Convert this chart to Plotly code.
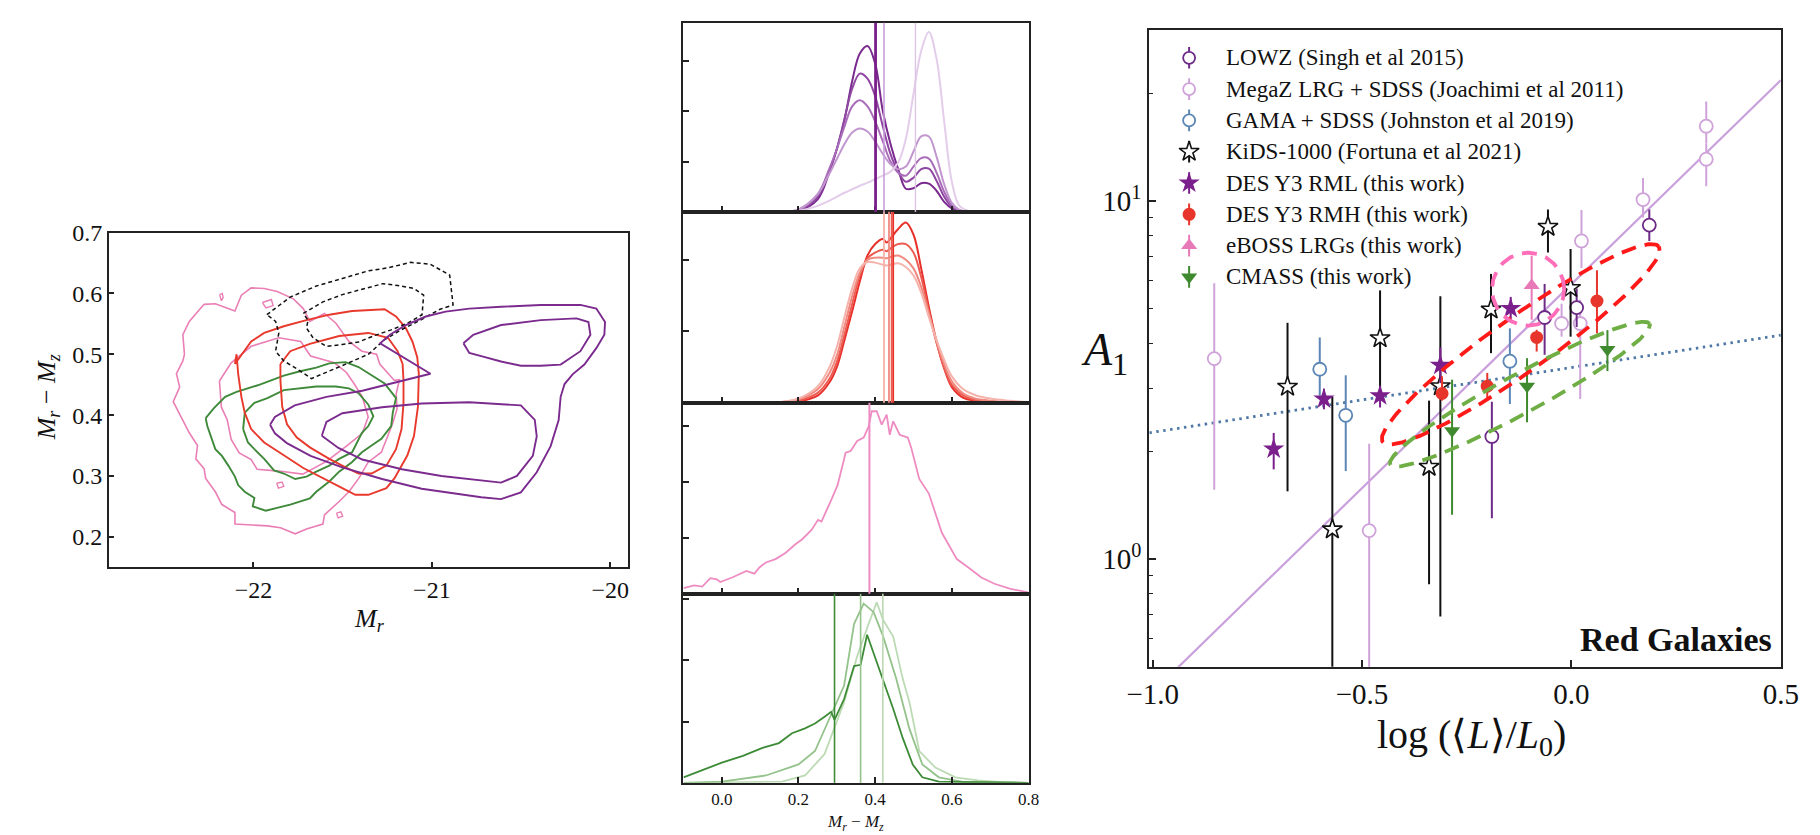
import numpy as np
import plotly.graph_objects as go

W, H = 1820, 835
FONT = "Liberation Serif"

# ======================= LEFT PANEL: colour-magnitude contours (M_r, M_r - M_z) =======================
purple_outer_mr = [-21.907, -21.88, -21.769, -21.591, -21.39, -21.168, -21.008, -21.29, -21.235, -21.146, -21.034,
                   -20.923, -20.79, -20.612, -20.389, -20.167, -20.078, -20.029, -20.033, -20.078, -20.145, -20.211,
                   -20.256, -20.278, -20.289, -20.334, -20.412, -20.501, -20.612, -20.723, -20.879, -21.057, -21.279,
                   -21.502, -21.68, -21.813, -21.88]
purple_outer_c = [0.384, 0.397, 0.416, 0.43, 0.44, 0.456, 0.468, 0.518, 0.532, 0.548, 0.562, 0.57, 0.575, 0.578, 0.581,
                  0.581, 0.575, 0.553, 0.532, 0.51, 0.483, 0.467, 0.451, 0.43, 0.392, 0.349, 0.306, 0.273, 0.262, 0.265,
                  0.271, 0.279, 0.295, 0.314, 0.333, 0.354, 0.37]
purple_inner_a_mr = [-20.823, -20.768, -20.612, -20.389, -20.189, -20.122, -20.111, -20.167, -20.278, -20.389, -20.501,
                     -20.612, -20.723, -20.79]
purple_inner_a_c = [0.518, 0.532, 0.548, 0.556, 0.559, 0.553, 0.532, 0.505, 0.483, 0.481, 0.481, 0.488, 0.497, 0.502]
purple_inner_b_mr = [-21.617, -21.524, -21.39, -21.168, -20.946, -20.723, -20.612, -20.523, -20.434, -20.412, -20.423,
                     -20.501, -20.79, -21.057, -21.279, -21.502, -21.591]
purple_inner_b_c = [0.366, 0.346, 0.327, 0.311, 0.3, 0.292, 0.289, 0.3, 0.333, 0.365, 0.392, 0.416, 0.421, 0.419, 0.413,
                    0.403, 0.389]

red_outer_mr = [-22.104, -22.013, -21.94, -21.83, -21.703, -21.575, -21.447, -21.265, -21.201, -21.146, -21.109, -21.082,
                -21.073, -21.078, -21.1, -21.137, -21.21, -21.255, -21.356, -21.429, -21.502, -21.575, -21.648, -21.721,
                -21.83, -21.94, -22.013, -22.049, -22.068, -22.086, -22.095]
red_outer_c = [0.484, 0.521, 0.535, 0.546, 0.556, 0.565, 0.571, 0.574, 0.562, 0.543, 0.521, 0.495, 0.468, 0.414, 0.366,
               0.334, 0.296, 0.28, 0.269, 0.269, 0.28, 0.291, 0.301, 0.313, 0.334, 0.355, 0.377, 0.404, 0.43, 0.468, 0.5]
red_inner_mr = [-21.849, -21.794, -21.684, -21.52, -21.356, -21.246, -21.192, -21.164, -21.159, -21.159, -21.17, -21.201,
                -21.255, -21.338, -21.411, -21.484, -21.575, -21.684, -21.757, -21.812, -21.839, -21.849]
red_inner_c = [0.484, 0.505, 0.517, 0.53, 0.535, 0.527, 0.505, 0.484, 0.457, 0.42, 0.377, 0.344, 0.317, 0.304, 0.304,
               0.314, 0.328, 0.347, 0.363, 0.385, 0.414, 0.457]

green_outer_mr = [-22.268, -22.223, -22.159, -22.095, -21.976, -21.83, -21.739, -21.648, -21.575, -21.484, -21.411,
                  -21.338, -21.265, -21.201, -21.219, -21.228, -21.283, -21.338, -21.392, -21.447, -21.52, -21.575,
                  -21.648, -21.684, -21.794, -21.931, -22.004, -21.995, -22.049, -22.086, -22.104, -22.141, -22.177,
                  -22.214, -22.241, -22.259]
green_outer_c = [0.395, 0.411, 0.43, 0.438, 0.449, 0.465, 0.472, 0.478, 0.485, 0.487, 0.479, 0.465, 0.452, 0.428, 0.404,
                 0.382, 0.361, 0.35, 0.339, 0.323, 0.307, 0.291, 0.274, 0.263, 0.253, 0.243, 0.25, 0.264, 0.274, 0.285,
                 0.299, 0.317, 0.333, 0.344, 0.366, 0.382]
green_inner_mr = [-22.058, -22.049, -21.995, -21.922, -21.83, -21.648, -21.538, -21.465, -21.411, -21.356, -21.328,
                  -21.356, -21.392, -21.42, -21.447, -21.52, -21.575, -21.648, -21.703, -21.766, -21.83, -21.885,
                  -21.94, -21.995, -22.031]
green_inner_c = [0.377, 0.404, 0.42, 0.428, 0.441, 0.447, 0.447, 0.444, 0.436, 0.417, 0.398, 0.382, 0.371, 0.355, 0.339,
                 0.328, 0.317, 0.307, 0.299, 0.295, 0.304, 0.309, 0.328, 0.344, 0.355]

pink_outer_mr = [-22.387, -22.396, -22.36, -22.277, -22.214, -22.104, -22.068, -22.013, -21.94, -21.867, -21.776,
                 -21.721, -21.684, -21.602, -21.538, -21.465, -21.392, -21.31, -21.292, -21.21, -21.182, -21.2, -21.195,
                 -21.219, -21.255, -21.283, -21.356, -21.41, -21.465, -21.52, -21.602, -21.611, -21.703, -21.766,
                 -21.849, -21.922, -22.104, -22.104, -22.177, -22.214, -22.268, -22.277, -22.323, -22.314, -22.36,
                 -22.414, -22.45, -22.414, -22.432, -22.396]
pink_outer_c = [0.5, 0.532, 0.554, 0.582, 0.583, 0.571, 0.597, 0.609, 0.608, 0.603, 0.591, 0.575, 0.554, 0.567, 0.551,
                0.521, 0.505, 0.5, 0.484, 0.457, 0.458, 0.435, 0.41, 0.387, 0.36, 0.339, 0.323, 0.296, 0.274, 0.258,
                0.236, 0.221, 0.213, 0.205, 0.215, 0.218, 0.221, 0.24, 0.253, 0.274, 0.296, 0.312, 0.328, 0.35, 0.371,
                0.403, 0.422, 0.446, 0.468, 0.489]
pink_inner_mr = [-22.191, -22.18, -22.147, -22.125, -22.08, -22.013, -21.98, -21.858, -21.724, -21.591, -21.479, -21.39,
                 -21.357, -21.39, -21.435, -21.479, -21.546, -21.68, -21.735, -21.858, -22.013, -22.125]
pink_inner_c = [0.456, 0.413, 0.392, 0.36, 0.338, 0.327, 0.311, 0.308, 0.303, 0.324, 0.349, 0.37, 0.397, 0.43, 0.451,
                0.47, 0.486, 0.497, 0.521, 0.527, 0.513, 0.486]
pink_islands_mr = [[-22.19, -22.175, -22.17, -22.18], [-21.95, -21.9, -21.89, -21.93],
                   [-21.87, -21.84, -21.83, -21.86], [-21.535, -21.51, -21.5, -21.525]]
pink_islands_c = [[0.598, 0.6, 0.593, 0.588], [0.585, 0.59, 0.58, 0.576],
                  [0.288, 0.29, 0.283, 0.28], [0.239, 0.241, 0.234, 0.231]]

black_outer_mr = [-21.925, -21.794, -21.648, -21.502, -21.356, -21.246, -21.119, -21.009, -20.9, -20.881, -20.954,
                  -21.064, -21.173, -21.265, -21.356, -21.465, -21.575, -21.675, -21.757, -21.83, -21.876, -21.868,
                  -21.858, -21.876]
black_outer_c = [0.565, 0.594, 0.612, 0.625, 0.637, 0.642, 0.651, 0.648, 0.63, 0.581, 0.574, 0.556, 0.54, 0.524, 0.5,
                 0.486, 0.473, 0.46, 0.476, 0.489, 0.505, 0.521, 0.535, 0.554]
black_inner_mr = [-21.721, -21.611, -21.502, -21.374, -21.274, -21.192, -21.1, -21.046, -21.055, -21.137, -21.228,
                  -21.319, -21.411, -21.502, -21.593, -21.666, -21.703, -21.694]
black_inner_c = [0.567, 0.586, 0.598, 0.608, 0.616, 0.613, 0.608, 0.597, 0.565, 0.551, 0.54, 0.531, 0.52, 0.516, 0.513,
                 0.527, 0.543, 0.556]

# ======================= MIDDLE PANELS: colour distributions =======================
p1_x = [-0.10, 0.10, 0.15, 0.20, 0.25, 0.28, 0.30, 0.32, 0.34, 0.36, 0.38, 0.40, 0.42, 0.44, 0.46, 0.48, 0.50, 0.52,
        0.54, 0.56, 0.58, 0.60, 0.62, 0.65, 0.70, 0.80]
p1_curves = [
    [0, 0, 0, 0.02, 0.25, 0.78, 1.25, 1.83, 2.6, 3.15, 3.3, 2.95, 2.0, 1.35, 0.85, 0.46, 0.47, 0.57, 0.56, 0.42, 0.2, 0.07, 0.02, 0, 0, 0],
    [0, 0, 0, 0.03, 0.3, 0.8, 1.25, 1.85, 2.45, 2.75, 2.65, 2.3, 1.7, 1.15, 0.8, 0.6, 0.68, 0.85, 0.86, 0.62, 0.3, 0.1, 0.03, 0, 0, 0],
    [0, 0, 0, 0.04, 0.35, 0.85, 1.25, 1.7, 2.1, 2.22, 2.1, 1.8, 1.4, 1.0, 0.78, 0.72, 0.9, 1.07, 1.06, 0.78, 0.4, 0.13, 0.03, 0, 0, 0],
    [0, 0, 0, 0.05, 0.35, 0.75, 1.05, 1.35, 1.58, 1.66, 1.6, 1.4, 1.15, 0.95, 0.85, 0.9, 1.2, 1.5, 1.5, 1.1, 0.55, 0.18, 0.04, 0, 0, 0],
    [0, 0, 0, 0.02, 0.12, 0.22, 0.3, 0.38, 0.45, 0.52, 0.58, 0.65, 0.72, 0.8, 0.98, 1.45, 2.35, 3.2, 3.58, 3.05, 1.8, 0.6, 0.12, 0.01, 0, 0],
]
p1_means = [0.401, 0.423, 0.505]

p2_x = [-0.10, 0.15, 0.20, 0.25, 0.28, 0.30, 0.32, 0.34, 0.36, 0.38, 0.40, 0.42, 0.43, 0.44, 0.46, 0.48, 0.50, 0.52,
        0.54, 0.56, 0.58, 0.60, 0.63, 0.66, 0.70, 0.75, 0.80]
p2_curves = [
    [0, 0, 0.02, 0.1, 0.28, 0.5, 0.88, 1.28, 1.7, 2.06, 2.22, 2.29, 2.24, 2.3, 2.43, 2.52, 2.35, 1.88, 1.34, 0.86, 0.48, 0.22, 0.07, 0.03, 0.01, 0, 0],
    [0, 0, 0.03, 0.14, 0.33, 0.57, 0.96, 1.38, 1.78, 2.02, 2.1, 2.14, 2.12, 2.16, 2.22, 2.22, 2.1, 1.76, 1.28, 0.84, 0.49, 0.25, 0.1, 0.04, 0.02, 0, 0],
    [0, 0.01, 0.05, 0.19, 0.41, 0.66, 1.07, 1.49, 1.82, 2.0, 2.03, 2.03, 2.02, 2.04, 2.06, 2.0, 1.88, 1.62, 1.25, 0.86, 0.54, 0.3, 0.13, 0.06, 0.03, 0.01, 0],
    [0, 0.01, 0.06, 0.23, 0.49, 0.78, 1.2, 1.6, 1.88, 1.97, 1.96, 1.93, 1.92, 1.93, 1.95, 1.9, 1.78, 1.54, 1.2, 0.88, 0.6, 0.37, 0.19, 0.11, 0.06, 0.03, 0.01],
]
p2_means = [0.447, 0.443, 0.436, 0.423]

p3_x = [-0.1, -0.072, -0.051, -0.03, -0.013, -0.004, 0.03, 0.064, 0.085, 0.098, 0.115, 0.14, 0.166, 0.191, 0.209, 0.234,
        0.251, 0.26, 0.285, 0.302, 0.323, 0.336, 0.353, 0.37, 0.383, 0.391, 0.404, 0.417, 0.43, 0.438, 0.447, 0.464,
        0.485, 0.494, 0.515, 0.54, 0.574, 0.613, 0.643, 0.677, 0.711, 0.753, 0.796, 0.8]
p3_y = [0.1, 0.15, 0.13, 0.28, 0.26, 0.21, 0.3, 0.41, 0.36, 0.47, 0.56, 0.62, 0.73, 0.88, 0.97, 1.14, 1.32, 1.29, 1.67,
        1.94, 2.52, 2.55, 2.73, 2.79, 2.99, 3.26, 3.26, 3.02, 3.2, 2.84, 3.08, 2.84, 2.79, 2.61, 2.05, 1.79, 1.09, 0.62,
        0.47, 0.29, 0.18, 0.09, 0.03, 0.02]
p3_mean = 0.385

p4a_x = [-0.1, -0.055, 0.0, 0.055, 0.106, 0.149, 0.183, 0.217, 0.243, 0.268, 0.285, 0.294, 0.319, 0.345, 0.362, 0.379,
         0.396, 0.421, 0.447, 0.472, 0.498, 0.523, 0.566, 0.65, 0.8]
p4a_y = [0.09, 0.2, 0.33, 0.44, 0.57, 0.65, 0.81, 0.89, 0.97, 1.08, 1.16, 1.03, 1.37, 1.91, 1.93, 2.42, 2.12, 1.7, 1.21,
         0.73, 0.3, 0.09, 0.02, 0.01, 0.0]
p4b_x = [-0.1, 0.0, 0.115, 0.2, 0.243, 0.285, 0.319, 0.345, 0.37, 0.396, 0.421, 0.455, 0.489, 0.523, 0.566, 0.626, 0.8]
p4b_y = [0.0, 0.02, 0.12, 0.3, 0.52, 1.1, 1.59, 2.6, 2.93, 2.79, 2.39, 1.7, 0.89, 0.3, 0.09, 0.02, 0.0]
p4c_x = [-0.1, 0.157, 0.217, 0.268, 0.319, 0.353, 0.383, 0.404, 0.421, 0.447, 0.472, 0.49, 0.515, 0.557, 0.609, 0.668, 0.73, 0.8]
p4c_y = [0.0, 0.02, 0.12, 0.47, 1.32, 2.07, 2.6, 2.95, 2.66, 2.39, 1.7, 1.3, 0.52, 0.25, 0.09, 0.04, 0.01, 0.0]
p4_means = [0.294, 0.362, 0.42]

# ======================= RIGHT PANEL: A_1 vs luminosity =======================
lowz_x = [-0.19, -0.064, 0.0125, 0.186]
lowz_y = [2.20, 4.73, 5.04, 8.57]
lowz_hi = [2.75, 5.87, 5.7, 9.48]
lowz_lo = [1.30, 3.72, 4.45, 7.74]

megaz_x = [-0.853, -0.483, -0.0235, 0.021, 0.024, 0.171, 0.322, 0.322]
megaz_y = [3.63, 1.20, 4.55, 4.55, 7.74, 10.1, 13.1, 16.2]
megaz_hi = [5.9, 2.10, 5.17, 5.3, 9.45, 11.6, 14.5, 19.0]
megaz_lo = [1.56, 0.3, 4.18, 2.8, 6.5, 9.0, 11.0, 14.5]

gama_x = [-0.601, -0.539, -0.147]
gama_y = [3.39, 2.52, 3.57]
gama_hi = [4.16, 3.26, 4.41]
gama_lo = [2.86, 1.76, 2.71]

kids_x = [-0.678, -0.571, -0.457, -0.340, -0.313, -0.192, -0.056, -0.002]
kids_y = [3.03, 1.21, 4.14, 1.81, 3.04, 4.98, 8.48, 5.72]
kids_hi = [4.57, 2.84, 5.63, 2.77, 5.42, 6.26, 9.48, 7.35]
kids_lo = [1.545, 0.3, 3.0, 0.85, 0.69, 3.76, 7.18, 4.18]

rml_x = [-0.711, -0.591, -0.457, -0.313, -0.145]
rml_y = [2.03, 2.80, 2.86, 3.48, 5.01]
rml_hi = [2.25, 2.99, 3.04, 3.9, 5.4]
rml_lo = [1.78, 2.62, 2.65, 3.1, 4.66]

rmh_x = [-0.309, -0.201, -0.083, 0.061]
rmh_y = [2.90, 3.04, 4.16, 5.26]
rmh_hi = [3.24, 3.31, 4.37, 6.41]
rmh_lo = [2.77, 2.77, 3.80, 4.27]

eboss_x = [-0.095]
eboss_y = [5.81]
eboss_hi = [7.04]
eboss_lo = [4.66]

cmass_x = [-0.285, -0.106, 0.086]
cmass_y = [2.28, 3.04, 3.85]
cmass_hi = [3.17, 3.64, 4.36]
cmass_lo = [1.33, 2.41, 3.35]

# power-law fits: log10 A1 = intercept + slope * log(L/L0)
fit_red = (0.768, 1.14)
fit_dotted = (0.535, 0.181)

# confidence ellipses in (log L, log10 A1): centre, semi-axis vectors
ell_rmh = dict(c=(-0.121, 0.600), a=(0.3297, 0.2729), b=(-0.0374, 0.0631))
ell_cmass = dict(c=(-0.123, 0.4605), a=(0.3097, 0.1964), b=(-0.022, 0.0485))
ell_eboss = dict(c=(-0.1035, 0.754), a=(0.0861, 0.0), b=(0.0, 0.1018))

legend_labels = ["LOWZ (Singh et al 2015)", "MegaZ LRG + SDSS (Joachimi et al 2011)",
                 "GAMA + SDSS (Johnston et al 2019)", "KiDS-1000 (Fortuna et al 2021)",
                 "DES Y3 RML (this work)", "DES Y3 RMH (this work)", "eBOSS LRGs (this work)",
                 "CMASS (this work)"]

# ======================= figure =======================
fig = go.Figure()


def px_dom_x(x0, x1):
    return [x0 / W, x1 / W]


def px_dom_y(y_top, y_bot):
    return [1 - y_bot / H, 1 - y_top / H]


def closed(a):
    return list(a) + [a[0]]


def line_trace(x, y, color, width, xa, ya, dash=None, shape="linear"):
    fig.add_trace(go.Scatter(x=x, y=y, mode="lines", xaxis=xa, yaxis=ya, hoverinfo="skip", showlegend=False,
                             line=dict(color=color, width=width, dash=dash, shape=shape)))


# ---- left panel
C_PINK = "#ea7fb5"
C_PURP = "#7b2b8e"
C_RED = "#e8392c"
C_GREEN = "#3e8a3a"
line_trace(closed(pink_outer_mr), closed(pink_outer_c), C_PINK, 1.6, "x", "y")
line_trace(closed(pink_inner_mr), closed(pink_inner_c), C_PINK, 1.6, "x", "y")
for mr, c in zip(pink_islands_mr, pink_islands_c):
    line_trace(closed(mr), closed(c), C_PINK, 1.4, "x", "y")
line_trace(closed(green_outer_mr), closed(green_outer_c), C_GREEN, 1.9, "x", "y")
line_trace(closed(green_inner_mr), closed(green_inner_c), C_GREEN, 1.9, "x", "y")
line_trace(closed(red_outer_mr), closed(red_outer_c), C_RED, 1.9, "x", "y")
line_trace(closed(red_inner_mr), closed(red_inner_c), C_RED, 1.9, "x", "y")
line_trace(closed(black_outer_mr), closed(black_outer_c), "#111111", 1.5, "x", "y", dash="4px,3px")
line_trace(closed(black_inner_mr), closed(black_inner_c), "#111111", 1.5, "x", "y", dash="4px,3px")
line_trace(closed(purple_outer_mr), closed(purple_outer_c), C_PURP, 1.9, "x", "y")
line_trace(closed(purple_inner_a_mr), closed(purple_inner_a_c), C_PURP, 1.9, "x", "y")
line_trace(closed(purple_inner_b_mr), closed(purple_inner_b_c), C_PURP, 1.9, "x", "y")

# ---- middle panels
p1_cols = ["#7a2a8e", "#8f47a2", "#a96cb9", "#c196cf", "#e4cdea"]
for vals, col in zip(p1_curves, p1_cols):
    line_trace(p1_x, vals, col, 2, "x2", "y2", shape="spline")
p1_vcols = ["#7a1f8a", "#c9a0dc", "#dcc6e4"]
p1_vw = [2.8, 1.6, 1.4]
for xv, col, w in zip(p1_means, p1_vcols, p1_vw):
    fig.add_shape(type="line", xref="x2", yref="y2 domain", x0=xv, x1=xv, y0=0, y1=1, line=dict(color=col, width=w))

p2_cols = ["#e8302a", "#ec5a50", "#f08a80", "#f5b3ab"]
for vals, col in zip(p2_curves, p2_cols):
    line_trace(p2_x, vals, col, 2, "x3", "y3", shape="spline")
for xv, col in zip(p2_means, p2_cols):
    fig.add_shape(type="line", xref="x3", yref="y3 domain", x0=xv, x1=xv, y0=0, y1=1, line=dict(color=col, width=1.8))

line_trace(p3_x, p3_y, "#ee8cc2", 1.8, "x4", "y4")
fig.add_shape(type="line", xref="x4", yref="y4 domain", x0=p3_mean, x1=p3_mean, y0=0, y1=1,
              line=dict(color="#ee8cc2", width=2))

p4_cols = ["#3d8b37", "#93c28a", "#bcdab3"]
for xs, ys, col in zip([p4c_x, p4b_x, p4a_x], [p4c_y, p4b_y, p4a_y], p4_cols[::-1]):
    line_trace(xs, ys, col, 1.8, "x5", "y5")
for xv, col in zip(p4_means, p4_cols):
    fig.add_shape(type="line", xref="x5", yref="y5 domain", x0=xv, x1=xv, y0=0, y1=1, line=dict(color=col, width=1.6))

# ---- right panel
XR = [-1.008, 0.5]
YR = [np.log10(0.5), np.log10(30)]
xx = np.linspace(XR[0], XR[1], 200)
line_trace(xx, 10 ** (fit_red[0] + fit_red[1] * xx), "#c9a0dc", 2.2, "x6", "y6")
line_trace(xx, 10 ** (fit_dotted[0] + fit_dotted[1] * xx), "#4f78a6", 2.8, "x6", "y6", dash="2.5px,4.5px")

series = [
    (megaz_x, megaz_y, megaz_hi, megaz_lo, dict(symbol="circle", color="white", size=13, line=dict(color="#cfa3d9", width=1.8)), "#cfa3d9"),
    (gama_x, gama_y, gama_hi, gama_lo, dict(symbol="circle", color="white", size=13, line=dict(color="#5b86b5", width=1.8)), "#5b86b5"),
    (lowz_x, lowz_y, lowz_hi, lowz_lo, dict(symbol="circle", color="white", size=13, line=dict(color="#6d2a87", width=1.8)), "#6d2a87"),
    (kids_x, kids_y, kids_hi, kids_lo, dict(symbol="star", color="white", size=15, line=dict(color="#111111", width=1.6)), "#111111"),
    (rml_x, rml_y, rml_hi, rml_lo, dict(symbol="star", color="#7b1f8c", size=16, line=dict(color="#7b1f8c", width=0)), "#7b1f8c"),
    (rmh_x, rmh_y, rmh_hi, rmh_lo, dict(symbol="circle", color="#e8352b", size=13, line=dict(color="#e8352b", width=0)), "#e8352b"),
    (eboss_x, eboss_y, eboss_hi, eboss_lo, dict(symbol="triangle-up", color="#e779b8", size=14, line=dict(color="#e779b8", width=0)), "#e779b8"),
    (cmass_x, cmass_y, cmass_hi, cmass_lo, dict(symbol="triangle-down", color="#3f8a2f", size=14, line=dict(color="#3f8a2f", width=0)), "#3f8a2f"),
]
for sx, sy, shi, slo, mk, ecol in series:
    sy_a = np.array(sy)
    fig.add_trace(go.Scatter(
        x=sx, y=sy, mode="markers", xaxis="x6", yaxis="y6", marker=mk, showlegend=False, hoverinfo="skip",
        error_y=dict(type="data", symmetric=False, array=np.array(shi) - sy_a, arrayminus=sy_a - np.array(slo),
                     color=ecol, thickness=2, width=0)))


def ellipse(e, n=240):
    t = np.linspace(0, 2 * np.pi, n)
    x = e["c"][0] + e["a"][0] * np.cos(t) + e["b"][0] * np.sin(t)
    ly = e["c"][1] + e["a"][1] * np.cos(t) + e["b"][1] * np.sin(t)
    return x, 10 ** ly


ex, ey = ellipse(ell_rmh)
line_trace(ex, ey, "#ff1a1a", 3.8, "x6", "y6", dash="15px,9px")
ex, ey = ellipse(ell_cmass)
line_trace(ex, ey, "#6fae45", 3.8, "x6", "y6", dash="15px,9px")
ex, ey = ellipse(ell_eboss)
line_trace(ex, ey, "#ff6eb8", 3.8, "x6", "y6", dash="15px,9px")

# ---- legend (overlay axes in unit coordinates)
leg_marks = [
    dict(symbol="circle", color="white", size=12, line=dict(color="#6d2a87", width=1.8)),
    dict(symbol="circle", color="white", size=12, line=dict(color="#cfa3d9", width=1.8)),
    dict(symbol="circle", color="white", size=12, line=dict(color="#5b86b5", width=1.8)),
    dict(symbol="star", color="white", size=15, line=dict(color="#111111", width=1.6)),
    dict(symbol="star", color="#7b1f8c", size=16, line=dict(width=0)),
    dict(symbol="circle", color="#e8352b", size=13, line=dict(width=0)),
    dict(symbol="triangle-up", color="#e779b8", size=14, line=dict(width=0)),
    dict(symbol="triangle-down", color="#3f8a2f", size=14, line=dict(width=0)),
]
leg_ecol = ["#6d2a87", "#cfa3d9", "#5b86b5", "#111111", "#7b1f8c", "#e8352b", "#e779b8", "#3f8a2f"]
RP_L, RP_R, RP_T, RP_B = 1152.3, 1798.3, 17.7, 664.0
for i, (lab, mk, ec) in enumerate(zip(legend_labels, leg_marks, leg_ecol)):
    ypx = 45.5 + 31.8 * i
    v = (RP_B - ypx) / (RP_B - RP_T)
    u = (1193 - RP_L) / (RP_R - RP_L)
    fig.add_trace(go.Scatter(x=[u], y=[v], mode="markers", xaxis="x7", yaxis="y7", marker=mk, showlegend=False,
                             hoverinfo="skip",
                             error_y=dict(type="constant", value=11 / (RP_B - RP_T), color=ec, thickness=2, width=0)))
    fig.add_annotation(x=(1229 - RP_L) / (RP_R - RP_L), y=v, xref="x7", yref="y7", text=lab, showarrow=False,
                       xanchor="left", yanchor="middle", font=dict(family=FONT, size=23, color="#111"))

# ======================= layout =======================
axis_common = dict(showline=True, linewidth=2, linecolor="#222", mirror=True, ticks="inside", tickcolor="#222",
                   showgrid=False, zeroline=False, tickfont=dict(family=FONT, color="#111"))

lay = dict(width=W, height=H, margin=dict(l=0, r=0, t=0, b=0), paper_bgcolor="white", plot_bgcolor="white",
           showlegend=False, font=dict(family=FONT, color="#111"))

lay["xaxis"] = dict(axis_common, domain=px_dom_x(88, 619), range=[-22.81, -19.9], anchor="y",
                    tickvals=[-22, -21, -20], ticklen=5, tickwidth=1.5, tickfont=dict(family=FONT, size=24, color="#111"))
lay["yaxis"] = dict(axis_common, domain=px_dom_y(223, 563), range=[0.15, 0.7], anchor="x",
                    tickvals=[0.2, 0.3, 0.4, 0.5, 0.6, 0.7], tickformat=".1f", ticklen=5, tickwidth=1.5,
                    tickfont=dict(family=FONT, size=24, color="#111"))

mid_panels = [(10, 202, 3.76), (202, 396, 2.67), (396, 590, 3.41), (590, 782, 3.09)]
for k, (yt, yb, ytop) in enumerate(mid_panels):
    n = k + 2
    lay[f"xaxis{n}"] = dict(axis_common, domain=px_dom_x(675.7, 1028.7), range=[-0.1, 0.8], anchor=f"y{n}",
                            tickvals=[0, 0.2, 0.4, 0.6, 0.8], tickformat=".1f", ticklen=6, tickwidth=1.5,
                            showticklabels=(n == 5), tickfont=dict(family=FONT, size=17, color="#111"))
    lay[f"yaxis{n}"] = dict(axis_common, domain=px_dom_y(yt, yb), range=[0, ytop], anchor=f"x{n}",
                            tickvals=[1, 2, 3], showticklabels=False, ticklen=6, tickwidth=1.5)

lay["xaxis6"] = dict(axis_common, domain=px_dom_x(RP_L, RP_R), range=XR, anchor="y6", linewidth=2.2,
                     tickvals=[-1, -0.5, 0, 0.5], tickformat=".1f", ticklen=7, tickwidth=1.5,
                     tickfont=dict(family=FONT, size=29, color="#111"))
lay["yaxis6"] = dict(axis_common, domain=px_dom_y(RP_T, RP_B), type="log", range=YR, anchor="x6", linewidth=2.2,
                     tickvals=[1, 10], ticktext=["10<sup>0</sup>", "10<sup>1</sup>"], ticklen=7, tickwidth=1.5,
                     tickfont=dict(family=FONT, size=29, color="#111"),
                     minor=dict(tickmode="array", tickvals=[0.5, 0.6, 0.7, 0.8, 0.9, 2, 3, 4, 5, 6, 7, 8, 9, 20, 30],
                                ticks="inside", ticklen=4, tickwidth=1.2, tickcolor="#222", showgrid=False))
lay["xaxis7"] = dict(overlaying="x6", range=[0, 1], visible=False, anchor="y7")
lay["yaxis7"] = dict(overlaying="y6", range=[0, 1], visible=False, anchor="x7")

fig.update_layout(**lay)

# axis titles and panel label
ann = [
    dict(x=25 / W, y=1 - 390 / H, text="<i>M<sub>r</sub></i> − <i>M<sub>z</sub></i>", textangle=-90, size=26),
    dict(x=354 / W, y=1 - 617 / H, text="<i>M<sub>r</sub></i>", textangle=0, size=26),
    dict(x=852 / W, y=1 - 823 / H, text="<i>M<sub>r</sub></i> − <i>M<sub>z</sub></i>", textangle=0, size=17),
    dict(x=1106 / W, y=1 - 345 / H, text="<i>A</i><sub>1</sub>", textangle=0, size=46),
    dict(x=1482 / W, y=1 - 735 / H, text="log (⟨<i>L</i>⟩/<i>L</i><sub>0</sub>)", textangle=0, size=40),
]
for a in ann:
    fig.add_annotation(x=a["x"], y=a["y"], xref="paper", yref="paper", text=a["text"], textangle=a["textangle"],
                       showarrow=False, xanchor="center", yanchor="middle",
                       font=dict(family=FONT, size=a["size"], color="#111"))
fig.add_annotation(x=1791 / W, y=1 - 636 / H, xref="paper", yref="paper", text="<b>Red Galaxies</b>", showarrow=False,
                   xanchor="right", yanchor="middle", font=dict(family=FONT, size=34, color="#111"))

fig.write_html("out.html")
